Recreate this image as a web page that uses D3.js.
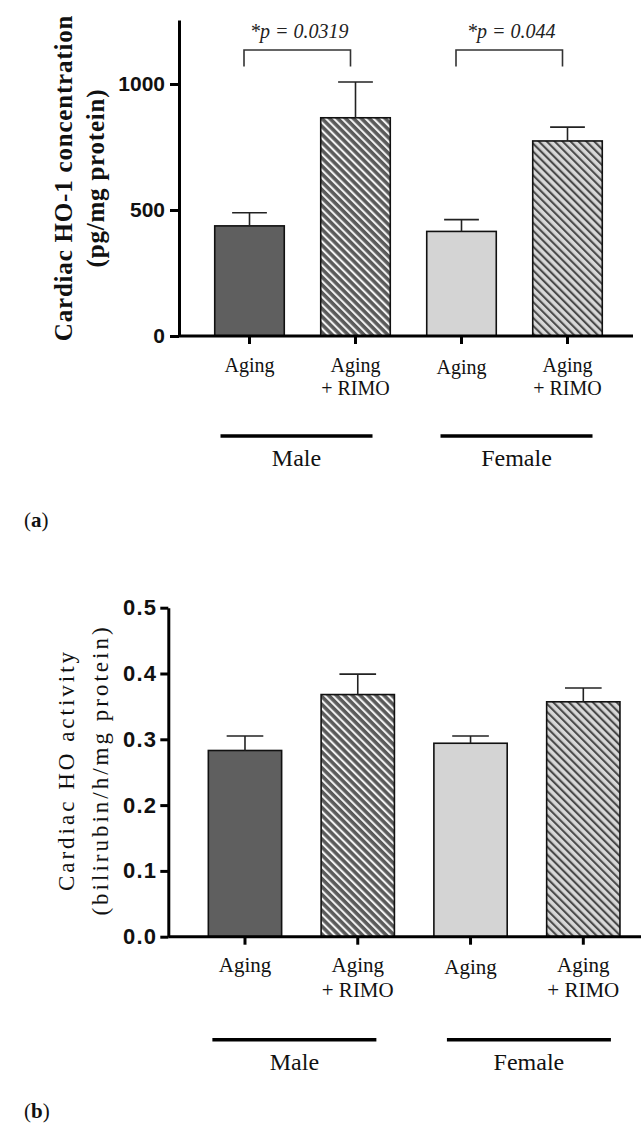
<!DOCTYPE html>
<html>
<head>
<meta charset="utf-8">
<script src="https://cdn.jsdelivr.net/npm/d3@7"></script>
<style>
  body { margin: 0; background: #fff; }
  svg { display: block; }
</style>
</head>
<body>
<svg id="chart" width="641" height="1126"></svg>
<script>
// ---- data ----
const tickLines = [['Aging'], ['Aging', '+ RIMO'], ['Aging'], ['Aging', '+ RIMO']];
const sexGroups = ['Male', 'Female'];
const groupMembers = [[0, 1], [2, 3]];

const ho1Values = [437, 866, 415, 774];
const ho1Sem = [52, 142, 47, 55];
const ho1Ticks = [0, 500, 1000];
const ho1Pvalues = ['*p = 0.0319', '*p = 0.044'];

const activityValues = [0.283, 0.368, 0.294, 0.357];
const activitySem = [0.022, 0.031, 0.011, 0.021];
const activityTicks = [0, 0.1, 0.2, 0.3, 0.4, 0.5];

// bar styles, in order of the categories
const barFills = ['#5f5f5f', 'url(#hatchDark)', '#d4d4d4', 'url(#hatchLight)'];

const svg = d3.select('#chart');
const serif = '"Liberation Serif", "Times New Roman", serif';
const sans = '"Liberation Sans", Arial, sans-serif';

svg.append('rect').attr('width', 641).attr('height', 1126).attr('fill', '#fff');

// hatch patterns
const defs = svg.append('defs');
function hatch(id, bg, stripe, w) {
    const p = defs.append('pattern')
        .attr('id', id)
        .attr('patternUnits', 'userSpaceOnUse')
        .attr('width', 5.6).attr('height', 5.6)
        .attr('patternTransform', 'rotate(-45)');
    p.append('rect').attr('width', 5.6).attr('height', 5.6).attr('fill', bg);
    p.append('rect').attr('width', w).attr('height', 5.6).attr('fill', stripe);
}
hatch('hatchDark', '#5a5a5a', '#f2f2f2', 2.1);
hatch('hatchLight', '#d8d8d8', '#4a4a4a', 2.1);

function drawPanel(o) {
    const g = svg.append('g');
    const idx = d3.range(o.values.length);

    const x = d3.scaleBand().domain(idx).range(o.xRange).paddingInner(o.pad).paddingOuter(o.pad / 2);
    const y = d3.scaleLinear().domain(o.yDomain).range(o.yRange);
    const bw = x.bandwidth();
    const cx = i => x(i) + bw / 2;

    // bars
    g.selectAll('rect.bar').data(idx).join('rect')
        .attr('class', 'bar')
        .attr('x', i => x(i))
        .attr('y', i => y(o.values[i]))
        .attr('width', bw)
        .attr('height', i => y(0) - y(o.values[i]))
        .attr('fill', i => barFills[i])
        .attr('stroke', '#111')
        .attr('stroke-width', 1.6);

    // error bars (upper only)
    const err = g.selectAll('g.err').data(idx).join('g').attr('class', 'err')
        .attr('stroke', '#222').attr('stroke-width', 1.6);
    err.append('line')
        .attr('x1', cx).attr('x2', cx)
        .attr('y1', i => y(o.values[i]))
        .attr('y2', i => y(o.values[i] + o.sem[i]));
    err.append('line')
        .attr('x1', i => cx(i) - bw / 4).attr('x2', i => cx(i) + bw / 4)
        .attr('y1', i => y(o.values[i] + o.sem[i]))
        .attr('y2', i => y(o.values[i] + o.sem[i]));

    // y axis
    const yAxis = d3.axisLeft(y)
        .tickValues(o.ticks)
        .tickFormat(d3.format(o.fmt))
        .tickSize(o.tickLen)
        .tickSizeOuter(0)
        .tickPadding(o.tickPad);
    const ya = g.append('g')
        .attr('transform', `translate(${o.axisX},0)`)
        .call(yAxis);
    ya.select('.domain').attr('stroke', '#000').attr('stroke-width', 3);
    ya.selectAll('.tick line').attr('stroke', '#000').attr('stroke-width', 3);
    ya.selectAll('.tick text')
        .attr('fill', '#111')
        .style('font-family', sans)
        .style('font-weight', 'bold')
        .style('font-size', o.tickFont + 'px')
        .style('letter-spacing', o.tickSpacing + 'px');

    // x axis
    const xAxis = d3.axisBottom(x).tickSize(8).tickSizeOuter(0).tickFormat('');
    const xa = g.append('g')
        .attr('transform', `translate(0,${y(0)})`)
        .call(xAxis);
    xa.select('.domain').remove();
    xa.selectAll('.tick line').attr('stroke', '#000').attr('stroke-width', 3);
    g.append('line')
        .attr('x1', o.axisX).attr('x2', o.xEnd)
        .attr('y1', y(0)).attr('y2', y(0))
        .attr('stroke', '#000').attr('stroke-width', 3);

    // category labels
    const lab = g.selectAll('text.cat').data(idx).join('text')
        .attr('class', 'cat')
        .attr('text-anchor', 'middle')
        .attr('fill', '#111')
        .style('font-family', serif)
        .style('font-size', o.catFont + 'px');
    lab.selectAll('tspan').data(i => tickLines[i].map(t => ({ t, i }))).join('tspan')
        .attr('x', d => cx(d.i))
        .attr('y', (d, k) => y(0) + o.catDy + (d.i === 2 ? 2 : 0) + k * o.catLine)
        .text(d => d.t);

    // group lines and names
    groupMembers.forEach((m, gi) => {
        const mid = (cx(m[0]) + cx(m[m.length - 1])) / 2 + o.groupNudge[gi];
        const gy = y(0) + o.groupDy;
        g.append('line')
            .attr('x1', mid - o.groupHalf).attr('x2', mid + o.groupHalf)
            .attr('y1', gy).attr('y2', gy)
            .attr('stroke', '#000').attr('stroke-width', 3.6);
        g.append('text')
            .attr('x', mid).attr('y', gy + 30)
            .attr('text-anchor', 'middle')
            .attr('fill', '#111')
            .style('font-family', serif)
            .style('font-size', '24px')
            .text(sexGroups[gi]);
    });

    // y label
    const yl = g.append('text')
        .attr('transform', `translate(0,${o.labelY}) rotate(-90)`)
        .attr('text-anchor', 'middle')
        .attr('fill', '#111')
        .style('font-family', serif)
        .style('font-weight', o.labelWeight)
        .style('font-size', o.labelFont + 'px')
        .style('letter-spacing', o.labelSpacing + 'px');
    o.label.forEach((t, k) => {
        yl.append('tspan').attr('x', 0).attr('y', o.labelX[k]).text(t);
    });

    // significance brackets
    if (o.pvalues) {
        groupMembers.forEach((m, gi) => {
            const x1 = cx(m[0]) - 5.5, x2 = cx(m[1]) - 5;
            const top = y(o.bracketTop), leg = y(o.bracketLeg);
            g.append('path')
                .attr('d', `M${x1},${leg}V${top}H${x2}V${leg}`)
                .attr('fill', 'none')
                .attr('stroke', '#333')
                .attr('stroke-width', 1.6);
            g.append('text')
                .attr('x', (x1 + x2) / 2 + 2)
                .attr('y', top - 12)
                .attr('text-anchor', 'middle')
                .attr('fill', '#222')
                .style('font-family', serif)
                .style('font-style', 'italic')
                .style('font-size', '20px')
                .text(o.pvalues[gi]);
        });
    }

    // panel tag
    const tag = g.append('text')
        .attr('x', 24).attr('y', o.tagY)
        .attr('fill', '#111')
        .style('font-family', serif)
        .style('font-size', '21px');
    tag.append('tspan').text('(');
    tag.append('tspan').style('font-weight', 'bold').text(o.tag);
    tag.append('tspan').text(')');
}

// (a) cardiac HO-1 concentration
drawPanel({
    values: ho1Values, sem: ho1Sem, ticks: ho1Ticks, fmt: 'd',
    yDomain: [0, 1254], yRange: [336, 20],
    xRange: [196.5, 620.5], pad: 0.344,
    axisX: 179, xEnd: 633,
    tickLen: 9, tickPad: 5, tickFont: 21, tickSpacing: 0,
    catFont: 20, catDy: 36, catLine: 23,
    groupDy: 100, groupHalf: 76, groupNudge: [-6, 2],
    label: ['Cardiac HO-1 concentration', '(pg/mg protein)'],
    labelX: [72, 104], labelY: 178, labelFont: 25, labelWeight: 'bold', labelSpacing: 0.8,
    pvalues: ho1Pvalues, bracketTop: 1135, bracketLeg: 1069,
    tag: 'a', tagY: 527
});

// (b) cardiac HO activity
drawPanel({
    values: activityValues, sem: activitySem, ticks: activityTicks, fmt: '.1f',
    yDomain: [0, 0.5], yRange: [936.7, 607.7],
    xRange: [188.6, 639.7], pad: 0.35,
    axisX: 168.3, xEnd: 641,
    tickLen: 8, tickPad: 3, tickFont: 22, tickSpacing: 1.2,
    catFont: 21, catDy: 35, catLine: 25,
    groupDy: 103, groupHalf: 82, groupNudge: [-7, 2],
    label: ['Cardiac HO activity', '(bilirubin/h/mg protein)'],
    labelX: [73.5, 107.5], labelY: 770, labelFont: 23, labelWeight: 'normal', labelSpacing: 3,
    pvalues: null,
    tag: 'b', tagY: 1118
});
</script>
</body>
</html>
